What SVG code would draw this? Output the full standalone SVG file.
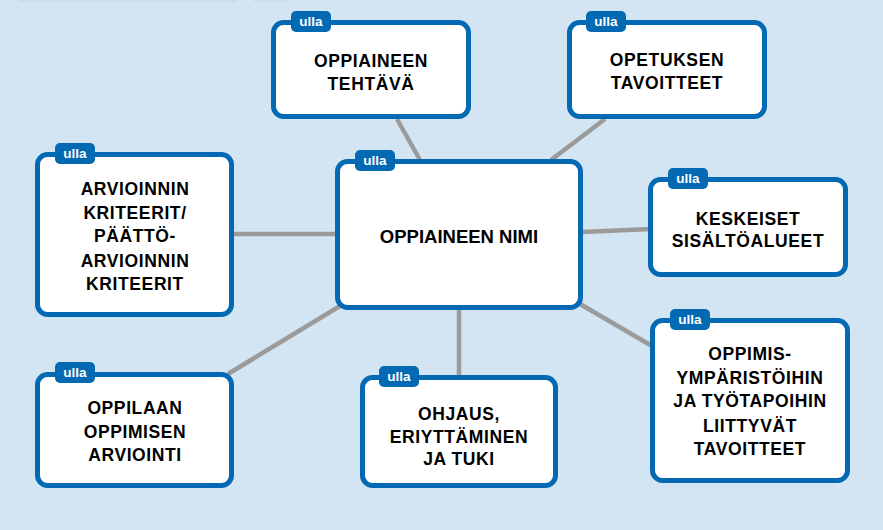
<svg xmlns="http://www.w3.org/2000/svg" width="883" height="530" viewBox="0 0 883 530">
<defs>
<style>
.bg{fill:#d3e5f2}
.box{fill:#ffffff;stroke:#0469b3;stroke-width:5}
.tag{fill:#0469b3}
.tagt{fill:#ffffff;font-family:"Liberation Sans",Arial,sans-serif;font-weight:bold;font-size:13.5px;text-anchor:middle}
.lbl{fill:#000000;font-family:"Liberation Sans",Arial,sans-serif;font-weight:bold;font-size:17.5px;letter-spacing:0.6px;text-anchor:middle}
.big{font-size:18.5px;letter-spacing:0}
.conn line{stroke:#9b9b9b;stroke-width:4.5;stroke-linecap:butt}
.shade{fill:#c3d3df;opacity:0.45}
</style>
</defs>
<rect class="bg" x="0" y="0" width="883" height="530"/>
<rect class="shade" x="18" y="-6" width="220" height="8" rx="4"/>
<rect class="shade" x="252" y="-6" width="36" height="8" rx="4"/>

<g id="connectors" class="conn">
<line x1="397" y1="119" x2="420" y2="160"/>
<line x1="605" y1="119" x2="551" y2="160"/>
<line x1="232" y1="234" x2="337" y2="234"/>
<line x1="582" y1="232" x2="651" y2="229"/>
<line x1="340" y1="306" x2="228" y2="374"/>
<line x1="459" y1="308" x2="459" y2="377"/>
<line x1="580" y1="304" x2="652" y2="346"/>
</g>

<g id="node-tehtava">
<rect class="box" x="273.5" y="22.5" width="195" height="94" rx="10"/>
<rect class="tag" x="291" y="11" width="40" height="21" rx="5"/>
<text class="tagt" x="311" y="26">ulla</text>
<text class="lbl" x="371" y="66.5">OPPIAINEEN</text>
<text class="lbl" x="371" y="90">TEHTÄVÄ</text>
</g>

<g id="node-opetuksen">
<rect class="box" x="569.5" y="22.5" width="195" height="94" rx="10"/>
<rect class="tag" x="586" y="11" width="40" height="21" rx="5"/>
<text class="tagt" x="606" y="26">ulla</text>
<text class="lbl" x="667" y="66">OPETUKSEN</text>
<text class="lbl" x="667" y="89">TAVOITTEET</text>
</g>

<g id="node-keskeiset">
<rect class="box" x="650.5" y="179.5" width="195" height="95" rx="10"/>
<rect class="tag" x="668" y="168" width="40" height="21" rx="5"/>
<text class="tagt" x="688" y="183">ulla</text>
<text class="lbl" x="748" y="225">KESKEISET</text>
<text class="lbl" x="748" y="247">SISÄLTÖALUEET</text>
</g>

<g id="node-arvioinnin">
<rect class="box" x="37.5" y="154.5" width="194" height="160" rx="10"/>
<rect class="tag" x="55" y="143" width="40" height="21" rx="5"/>
<text class="tagt" x="75" y="158">ulla</text>
<text class="lbl" x="135" y="195">ARVIOINNIN</text>
<text class="lbl" x="135" y="218.5">KRITEERIT/</text>
<text class="lbl" x="135" y="242">PÄÄTTÖ-</text>
<text class="lbl" x="135" y="266.5">ARVIOINNIN</text>
<text class="lbl" x="135" y="290">KRITEERIT</text>
</g>

<g id="node-center">
<rect class="box" x="337.5" y="161.5" width="243" height="146" rx="10"/>
<rect class="tag" x="355" y="150" width="40" height="21" rx="5"/>
<text class="tagt" x="375" y="165">ulla</text>
<text class="lbl big" x="459" y="243">OPPIAINEEN NIMI</text>
</g>

<g id="node-oppilaan">
<rect class="box" x="37.5" y="374.5" width="194" height="111" rx="10"/>
<rect class="tag" x="55" y="362" width="40" height="21" rx="5"/>
<text class="tagt" x="75" y="377">ulla</text>
<text class="lbl" x="135" y="414">OPPILAAN</text>
<text class="lbl" x="135" y="437.5">OPPIMISEN</text>
<text class="lbl" x="135" y="461">ARVIOINTI</text>
</g>

<g id="node-ohjaus">
<rect class="box" x="362.5" y="377.5" width="193" height="108" rx="10"/>
<rect class="tag" x="379" y="366" width="40" height="21" rx="5"/>
<text class="tagt" x="399" y="381">ulla</text>
<text class="lbl" x="459" y="420">OHJAUS,</text>
<text class="lbl" x="459" y="442.5">ERIYTTÄMINEN</text>
<text class="lbl" x="459" y="465">JA TUKI</text>
</g>

<g id="node-oppimis">
<rect class="box" x="652.5" y="320.5" width="195" height="160" rx="10"/>
<rect class="tag" x="670" y="309" width="40" height="21" rx="5"/>
<text class="tagt" x="690" y="324">ulla</text>
<text class="lbl" x="750" y="360">OPPIMIS-</text>
<text class="lbl" x="750" y="383.5">YMPÄRISTÖIHIN</text>
<text class="lbl" x="750" y="407">JA TYÖTAPOIHIN</text>
<text class="lbl" x="750" y="431.5">LIITTYVÄT</text>
<text class="lbl" x="750" y="455">TAVOITTEET</text>
</g>
</svg>
